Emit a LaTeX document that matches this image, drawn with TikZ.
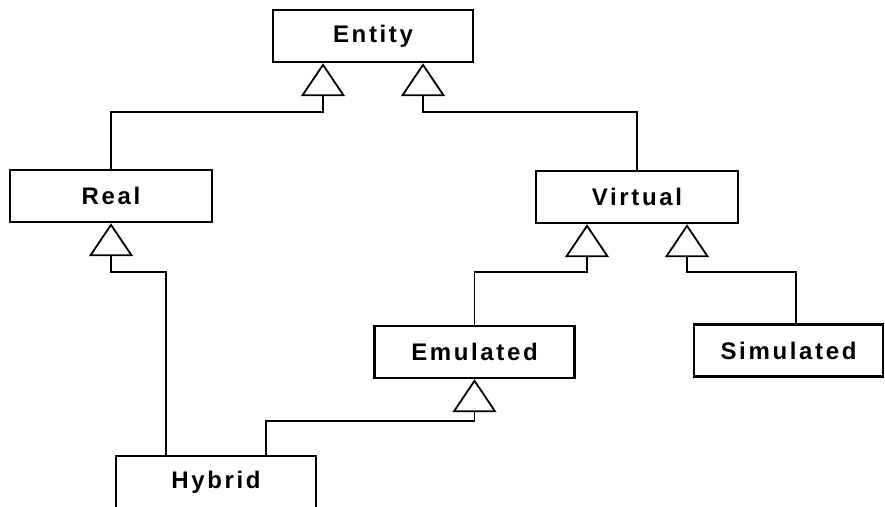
\documentclass[tikz,border=0pt]{standalone}
\usepackage{fontspec}
\setmainfont{Liberation Sans}
\newfontfamily\lblfont[LetterSpace=11]{Liberation Sans}
\usetikzlibrary{arrows.meta}
\begin{document}
\begin{tikzpicture}[x=1pt,y=-1pt,
  cls/.style={draw, line width=2.4pt, minimum width=200pt, minimum height=52pt,
    inner sep=0pt, font=\lblfont\bfseries\fontsize{24}{27}\selectfont},
  inh/.style={line width=1.8pt, line join=miter,
    -{Triangle[open, length=33pt, width=44pt, line width=1.8pt]}}]
\useasboundingbox (0,0) rectangle (885,506);
\node[cls] (entity) at (373,36) {Entity};
\node[cls, minimum width=202pt] (real) at (111,196) {Real};
\node[cls, minimum width=202pt] (virtual) at (637,197) {Virtual};
\node[cls] (emulated) at (474.5,352) {Emulated};
\node[cls, minimum width=189pt] (simulated) at (788.5,350.5) {Simulated};
\node[cls] (hybrid) at (216,482) {Hybrid};
% connectors
\draw[inh] (real.north) |- (323,112) -- (entity.south -| 323,0);
\draw[inh] (virtual.north) |- (423,112) -- (entity.south -| 423,0);
\draw[inh] (emulated.north) |- (587,272) -- (virtual.south -| 587,0);
\draw[inh] ([xshift=7.5pt]simulated.north) |- (687,272) -- (virtual.south -| 687,0);
\draw[inh] ([xshift=-50pt]hybrid.north) |- (111,272) -- (real.south);
\draw[inh] ([xshift=50pt]hybrid.north) |- (474.5,421) -- (emulated.south);
\end{tikzpicture}
\end{document}
